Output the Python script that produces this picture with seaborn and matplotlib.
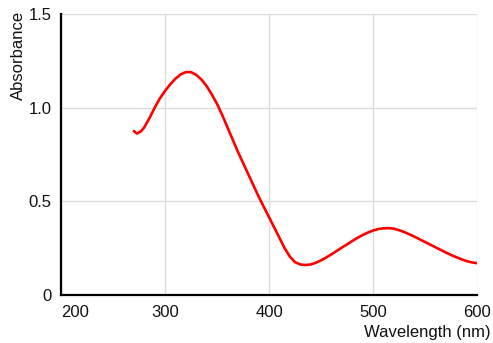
import matplotlib
matplotlib.use("Agg")
import matplotlib.pyplot as plt
import seaborn as sns
import pandas as pd

wavelength = [270, 273, 277, 280, 285, 290, 295, 300, 305, 310, 315, 320, 325, 330, 335,
              340, 345, 350, 355, 360, 365, 370, 375, 380, 385, 390, 395, 400, 405,
              410, 415, 420, 425, 430, 435, 440, 445, 450, 455, 460, 465, 470, 475,
              480, 485, 490, 495, 500, 505, 510, 515, 520, 525, 530, 535, 540, 545,
              550, 555, 560, 565, 570, 575, 580, 585, 590, 595, 600]
absorbance = [0.875, 0.862, 0.875, 0.895, 0.945, 1.00, 1.05, 1.09, 1.125, 1.155, 1.178,
              1.19, 1.19, 1.175, 1.15, 1.115, 1.07, 1.02, 0.96, 0.895, 0.83, 0.765,
              0.705, 0.645, 0.585, 0.525, 0.47, 0.415, 0.36, 0.305, 0.25, 0.205, 0.175,
              0.163, 0.16, 0.163, 0.172, 0.185, 0.20, 0.217, 0.235, 0.253, 0.27, 0.288,
              0.305, 0.32, 0.333, 0.344, 0.352, 0.356, 0.357, 0.354, 0.346, 0.336,
              0.324, 0.311, 0.297, 0.283, 0.269, 0.255, 0.241, 0.227, 0.214, 0.202,
              0.191, 0.181, 0.174, 0.17]
x_ticks = [200, 300, 400, 500, 600]
x_ticklabels = ["200", "300", "400", "500", "600"]
y_ticks = [0, 0.5, 1.0, 1.5]
y_ticklabels = ["0", "0.5", "1.0", "1.5"]

sns.set_style("white")
plt.rcParams['font.family'] = ['Liberation Sans', 'DejaVu Sans']

df = pd.DataFrame({"Wavelength (nm)": wavelength, "Absorbance": absorbance})

fig = plt.figure(figsize=(4.93, 3.43), dpi=100)
ax = fig.add_axes([0.124, 0.14, 0.8435, 0.819])

sns.lineplot(data=df, x="Wavelength (nm)", y="Absorbance", ax=ax,
             color="#ff0000", linewidth=1.9, sort=False)
for ln in ax.lines:
    ln.set_solid_joinstyle("round")
    ln.set_solid_capstyle("round")

ax.set_xlim(200, 600)
ax.set_ylim(0, 1.5)
ax.set_xticks(x_ticks)
ax.set_xticklabels(x_ticklabels)
ax.set_yticks(y_ticks)
ax.set_yticklabels(y_ticklabels)
ax.xaxis.get_majorticklabels()[0].set_horizontalalignment("left")

ax.grid(True, color="#dcdcdc", linewidth=1.0)
ax.set_axisbelow(True)
for s in ["top", "right"]:
    ax.spines[s].set_visible(False)
for s in ["left", "bottom"]:
    ax.spines[s].set_color("black")
    ax.spines[s].set_linewidth(1.6)

ax.tick_params(axis="both", length=0, labelsize=12, colors="#111111")
ax.tick_params(axis="x", pad=7)
ax.tick_params(axis="y", pad=7)

ax.set_xlabel("")
ax.set_ylabel("")
fig.text(491 / 493, 1 - 340 / 343, "Wavelength (nm)", fontsize=12, color="#111111",
         ha="right", va="bottom")
fig.text(18 / 493, 1 - 11 / 343, "Absorbance", fontsize=12, color="#111111",
         ha="center", va="top", rotation=90)

fig.savefig("out.png", dpi=100, facecolor="white")
